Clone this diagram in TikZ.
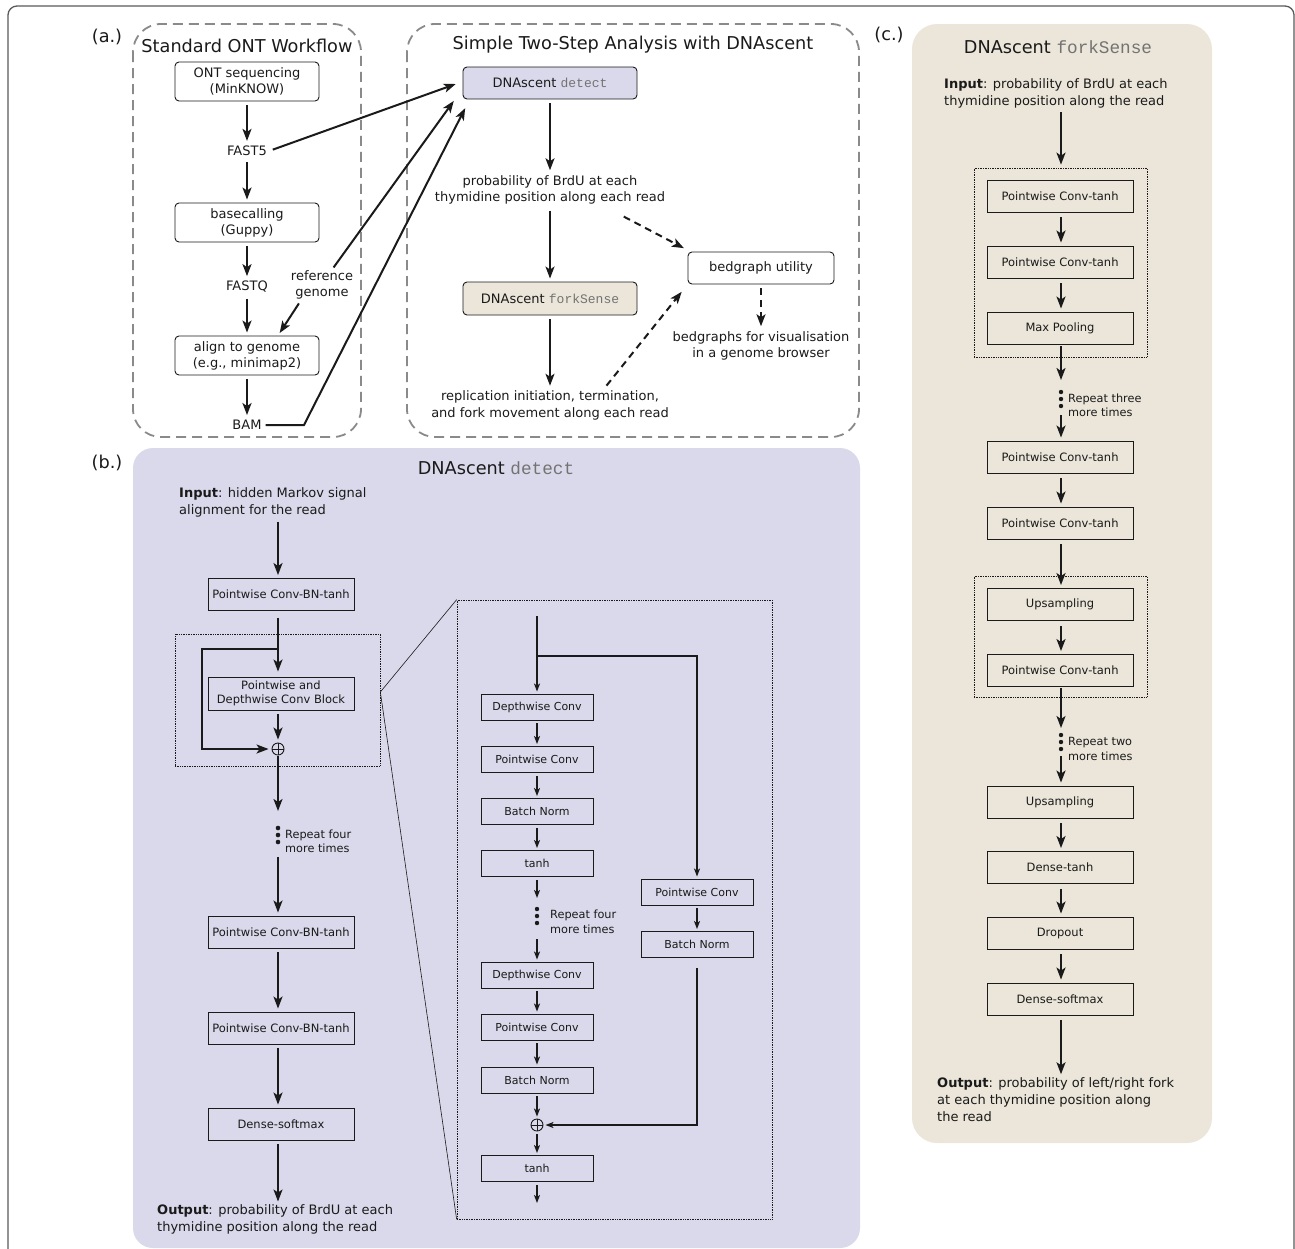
\documentclass[tikz,border=0pt]{standalone}
\usepackage{fontspec}
\setmainfont{DejaVu Sans}
\setmonofont{Liberation Mono}
\usetikzlibrary{arrows.meta}
\definecolor{detectbg}{HTML}{D9D9EB}
\definecolor{forkbg}{HTML}{EBE6D9}
\definecolor{dashgrey}{HTML}{8A8A8A}
\definecolor{inkgrey}{HTML}{1A1A1A}
\newcommand{\toolname}[1]{{\color{black!55}\ttfamily #1}}

\begin{document}
\begin{tikzpicture}[x=1pt, y=-1pt, color=inkgrey]
    \tikzstyle{heading}=[font=\fontsize{17.7}{20}\selectfont]
    \tikzstyle{flowtext}=[font=\fontsize{13}{16.5}\selectfont, align=center, inner sep=2pt]
    \tikzstyle{flowbox}=[rectangle, rounded corners=4pt, draw=inkgrey, fill=white, line width=0.9pt, minimum width=144pt, minimum height=39pt, inner sep=0pt, align=center, font=\fontsize{13}{16}\selectfont]
    \tikzstyle{layerbox}=[rectangle, draw=inkgrey, line width=0.9pt, minimum width=146pt, minimum height=32pt, inner sep=0pt, align=center, font=\fontsize{11.5}{14}\selectfont]
    \tikzstyle{sublayer}=[layerbox, minimum width=112pt, minimum height=26pt, font=\fontsize{11}{13}\selectfont]
    \tikzstyle{zoombox}=[rectangle, draw=inkgrey, densely dotted, line width=0.7pt, inner sep=0pt]
    \tikzstyle{dashpanel}=[draw=dashgrey, dash pattern=on 10pt off 6pt, line width=1.8pt, rounded corners=28pt]
    \tikzstyle{plusnode}=[circle, draw=inkgrey, line width=0.9pt, minimum size=12pt, inner sep=0pt,
        path picture={\draw[line width=0.9pt] (path picture bounding box.north) -- (path picture bounding box.south)
                      (path picture bounding box.west) -- (path picture bounding box.east);}]
    \tikzstyle{repnote}=[font=\fontsize{11.3}{14.5}\selectfont, align=left, anchor=west, inner sep=0pt]
    \tikzstyle{iotext}=[font=\fontsize{13}{17}\selectfont, align=left, anchor=west, inner sep=0pt]
    \tikzstyle{bigarrow}=[-{Stealth[length=12pt,width=9pt,inset=3pt]}, line width=2pt, shorten <=4pt, shorten >=3pt]
    \tikzstyle{dasharrow}=[bigarrow, dash pattern=on 7pt off 5pt]
    \tikzstyle{smallarrow}=[-{Stealth[length=8pt,width=6pt,inset=2pt]}, line width=1.8pt, shorten <=3pt, shorten >=2pt]

    \useasboundingbox (0,0) rectangle (1295,1248);
    \draw[black!65, line width=1.3pt, rounded corners=9pt] (8,6) rectangle (1294,1265);

    % Panel (a): the two workflows
    \node[heading] (labA) at (107,37) {(a.)};
    \draw[dashpanel] (133,24) rectangle (361,437);
    \draw[dashpanel] (407,24) rectangle (859,437);
    \node[heading] (ontTitle) at (247,46) {Standard ONT Workflow};
    \node[heading] (dnaTitle) at (633,45) {Simple Two-Step Analysis with DNAscent};

    \node[flowbox] (ont) at (247,81.5) {ONT sequencing\\(MinKNOW)};
    \node[flowtext] (fast5) at (247,151) {FAST5};
    \node[flowbox] (basecall) at (247,222.5) {basecalling\\(Guppy)};
    \node[flowtext] (fastq) at (247,287) {FASTQ};
    \node[flowbox] (align) at (247,355.5) {align to genome\\(e.g., minimap2)};
    \node[flowtext] (bam) at (247,425) {BAM};
    \node[flowtext] (refg) at (322,285) {reference\\genome};
    \coordinate (bamturn) at (304,425);

    \node[flowbox, fill=detectbg, minimum width=174pt, minimum height=32pt] (detect) at (550,83) {DNAscent \toolname{detect}};
    \node[flowtext] (probtxt) at (550,190) {probability of BrdU at each\\thymidine position along each read};
    \node[flowbox, fill=forkbg, minimum width=174pt, minimum height=33pt] (forksense) at (550,298.5) {DNAscent \toolname{forkSense}};
    \node[flowtext] (repltxt) at (550,405.5) {replication initiation, termination,\\and fork movement along each read};
    \node[flowbox, minimum width=146pt, minimum height=32pt] (bedgraph) at (761,268) {bedgraph utility};
    \node[flowtext] (bgtxt) at (761,346) {bedgraphs for visualisation\\in a genome browser};

    % Connect the standard workflow
    \foreach \source/\dest in {ont/fast5, fast5/basecall, basecall/fastq, fastq/align, align/bam}
        \draw[bigarrow] (\source) -- (\dest);
    \draw[bigarrow, shorten <=2pt] ([xshift=-22pt]refg.south) -- ([xshift=31pt]align.north);

    % Inputs of DNAscent detect
    \draw[bigarrow] (fast5.east) -- ([xshift=-4pt]detect.west);
    \draw[bigarrow, shorten <=1pt] ([xshift=11pt]refg.north) -- ([shift={(-7pt,1pt)}]detect.south west);
    \draw[bigarrow, shorten <=2pt] (bam.east) -- (bamturn) -- ([shift={(4pt,-6pt)}]detect.south west);

    \foreach \source/\dest in {detect/probtxt, probtxt/forksense, forksense/repltxt}
        \draw[bigarrow] (\source) -- (\dest);
    \draw[dasharrow] ([shift={(-47pt,-8pt)}]probtxt.south east) -- ([shift={(-1pt,2pt)}]bedgraph.north west);
    \draw[dasharrow] ([xshift=54pt]repltxt.north) -- ([shift={(-4pt,-5pt)}]bedgraph.south west);
    \draw[dasharrow] (bedgraph) -- (bgtxt);

    % Panel (b): DNAscent detect
    \node[heading] (labB) at (107,463) {(b.)};
    \fill[detectbg, rounded corners=20pt] (133,448) rectangle (860,1248);
    \node[heading] (titleB) at (496,468) {DNAscent \toolname{detect}};
    \node[iotext] (inB) at (179,502.5) {\textbf{Input}: hidden Markov signal\\alignment for the read};
    \coordinate (axisB) at (278,0);
    \coordinate (splitB) at (278,649);
    \coordinate (bypassB) at (202,649);
    \node[layerbox] (pcbn1) at (281,594.5) {Pointwise Conv-BN-tanh};
    \node[zoombox, minimum width=205pt, minimum height=132pt] (blk) at (277.5,700) {};
    \node[layerbox, minimum height=33pt] (pdconv) at (281,693.5) {Pointwise and\\Depthwise Conv Block};
    \node[plusnode] (sum1) at (278,749) {};
    \foreach \y in {828,835,842}
        \fill (278,\y) circle (2.3pt);
    \coordinate (repBtop) at (278,814);
    \coordinate (repBbot) at (278,853);
    \node[repnote] (repB) at (285,841.5) {Repeat four\\more times};
    \node[layerbox] (pcbn2) at (281,932) {Pointwise Conv-BN-tanh};
    \node[layerbox] (pcbn3) at (281,1028) {Pointwise Conv-BN-tanh};
    \node[layerbox] (dsmB) at (281,1124) {Dense-softmax};
    \node[iotext] (outB) at (157,1219.5) {\textbf{Output}: probability of BrdU at each\\thymidine position along the read};

    \draw[bigarrow] (inB.south -| axisB) -- (pcbn1.north -| axisB);
    \draw[bigarrow, shorten <=7pt, shorten >=5pt] (pcbn1.south -| axisB) -- (pdconv.north -| axisB);
    \draw[bigarrow, shorten <=0pt] (splitB) -- (bypassB) |- (sum1);
    \draw[bigarrow] (pdconv.south -| axisB) -- (sum1);
    \draw[bigarrow, shorten <=1pt] (sum1) -- (repBtop);
    \draw[bigarrow] (repBbot) -- (pcbn2.north -| axisB);
    \foreach \source/\dest in {pcbn2/pcbn3, pcbn3/dsmB, dsmB/outB}
        \draw[bigarrow] (\source.south -| axisB) -- (\dest.north -| axisB);

    % Zoom into the conv block
    \node[zoombox, minimum width=315pt, minimum height=619pt] (zoomB) at (614.5,909.5) {};
    \draw[line width=0.6pt] ([yshift=8pt]blk.east) -- (zoomB.north west);
    \draw[line width=0.6pt] ([yshift=8pt]blk.east) -- (zoomB.south west);
    \coordinate (zin) at (537,616);
    \coordinate (zsplit) at (537,656);
    \coordinate (zcorner) at (697,656);
    \foreach \name/\y/\txt in {dw1/707/Depthwise Conv, pw1/759.5/Pointwise Conv, bn1/811.5/Batch Norm, th1/863.5/tanh,
                               dw2/975/Depthwise Conv, pw2/1027/Pointwise Conv, bn2/1080/Batch Norm, th2/1168.5/tanh}
        \node[sublayer] (\name) at (537,\y) {\txt};
    \node[plusnode] (sum2) at (537,1125) {};
    \node[sublayer] (pwR) at (697,892) {Pointwise Conv};
    \node[sublayer] (bnR) at (697,944.5) {Batch Norm};
    \foreach \y in {909,916,923}
        \fill (537,\y) circle (2.2pt);
    \coordinate (repZtop) at (537,900);
    \coordinate (repZbot) at (537,936);
    \coordinate (zout) at (537,1205);
    \node[repnote] (repZ) at (550,922) {Repeat four\\more times};

    \draw[smallarrow, line width=2pt, shorten <=0pt] (zin) -- (dw1);
    \draw[smallarrow, line width=2pt, shorten <=0pt] (zsplit) -- (zcorner) -- (pwR);
    \foreach \source/\dest in {dw1/pw1, pw1/bn1, bn1/th1, th1/repZtop, repZbot/dw2, dw2/pw2, pw2/bn2, bn2/sum2, sum2/th2, th2/zout, pwR/bnR}
        \draw[smallarrow] (\source) -- (\dest);
    \draw[smallarrow, line width=2pt, shorten <=10pt] (bnR.south) |- (sum2);

    % Panel (c): DNAscent forkSense
    \node[heading] (labC) at (889,35) {(c.)};
    \fill[forkbg, rounded corners=25pt] (912,24) rectangle (1212,1143);
    \node[heading] (titleC) at (1058,47) {DNAscent \toolname{forkSense}};
    \node[iotext] (inC) at (944,93.5) {\textbf{Input}: probability of BrdU at each\\thymidine position along the read};
    \coordinate (axisC) at (1061,0);
    \node[zoombox, minimum width=173pt, minimum height=189pt] (loopC1) at (1060.5,262.5) {};
    \node[zoombox, minimum width=173pt, minimum height=121pt] (loopC2) at (1060.5,636.5) {};
    \foreach \name/\y/\txt in {pct1/196/Pointwise Conv-tanh, pct2/262/Pointwise Conv-tanh, maxp/328/Max Pooling,
                               pct3/457/Pointwise Conv-tanh, pct4/523/Pointwise Conv-tanh, ups1/604.5/Upsampling,
                               pct5/670.5/Pointwise Conv-tanh, ups2/802/Upsampling, dtanh/867.5/Dense-tanh,
                               drop/933/Dropout, dsmC/999/Dense-softmax}
        \node[layerbox] (\name) at (1060,\y) {\txt};
    \foreach \y in {392,399,406,735,742,749}
        \fill (1061,\y) circle (2.2pt);
    \coordinate (repC1top) at (1061,383);
    \coordinate (repC1bot) at (1061,411);
    \coordinate (repC2top) at (1061,731);
    \coordinate (repC2bot) at (1061,752);
    \node[repnote] (repC1) at (1068,405.5) {Repeat three\\more times};
    \node[repnote] (repC2) at (1068,749) {Repeat two\\more times};
    \node[iotext] (outC) at (937,1099.5) {\textbf{Output}: probability of left/right fork\\at each thymidine position along\\the read};

    \draw[bigarrow] (inC.south -| axisC) -- (loopC1.north -| axisC);
    \foreach \source/\dest in {pct1/pct2, pct2/maxp, pct3/pct4, pct4/ups1, ups1/pct5, ups2/dtanh, dtanh/drop, drop/dsmC, dsmC/outC}
        \draw[bigarrow, shorten <=5pt] (\source.south -| axisC) -- (\dest.north -| axisC);
    \draw[bigarrow, shorten <=2pt] (maxp.south -| axisC) -- (repC1top);
    \draw[bigarrow] (repC1bot) -- (pct3.north -| axisC);
    \draw[bigarrow, shorten <=1pt] (pct5.south -| axisC) -- (repC2top);
    \draw[bigarrow] (repC2bot) -- (ups2.north -| axisC);
\end{tikzpicture}
\end{document}
